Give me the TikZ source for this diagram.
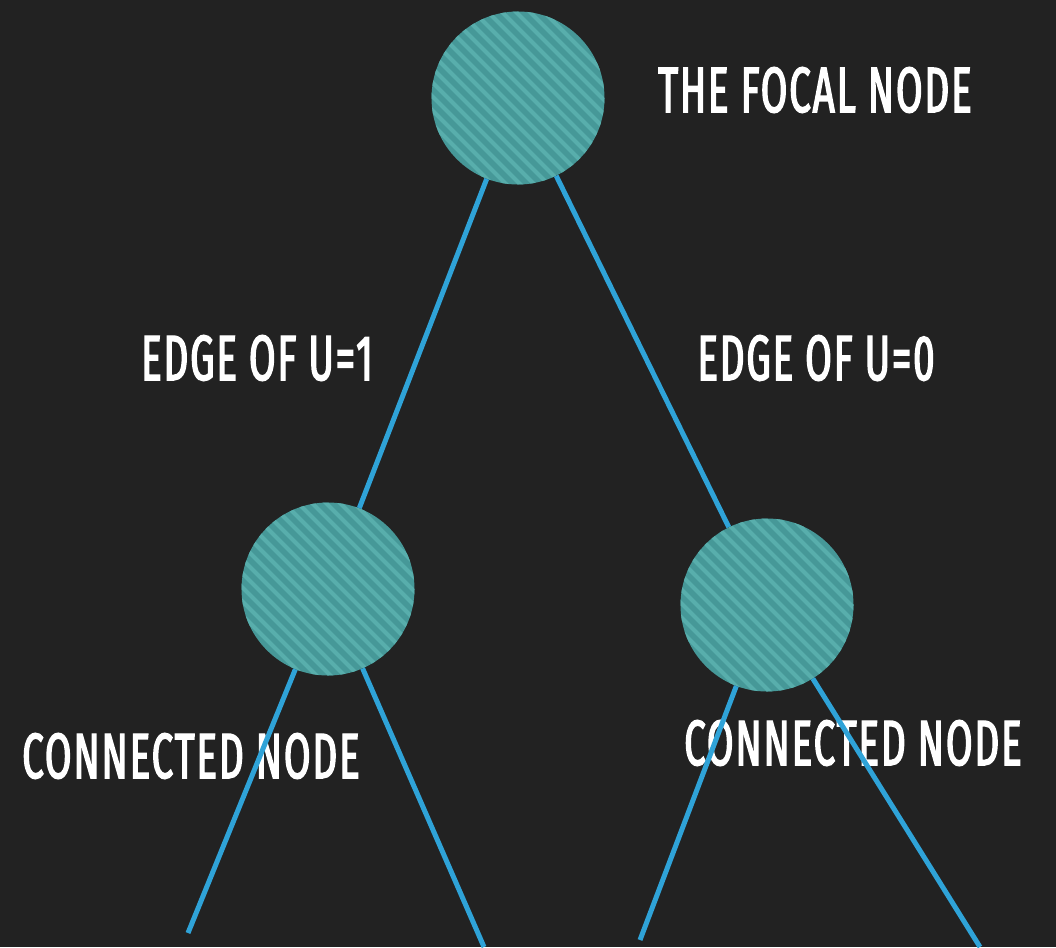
\documentclass[tikz,border=0pt]{standalone}
\usepackage{fontspec}
\usepackage{xcolor}
\usetikzlibrary{calc}
\newfontfamily\capfont[FakeStretch=0.6, FakeBold=2.2, LetterSpace=3]{Fira Sans}

\definecolor{bgdark}{RGB}{34,34,34}
\definecolor{tealfill}{RGB}{70,152,152}
\definecolor{tealstripe}{RGB}{88,174,172}
\definecolor{linkblue}{RGB}{47,163,216}

\begin{document}
\begin{tikzpicture}[
    x=1pt, y=-1pt,
    vertex/.style={circle, fill=tealfill, minimum size=173pt, inner sep=0pt,
        path picture={
            \foreach \k in {-14,...,14}
                \draw[tealstripe, line width=4pt]
                    ($(path picture bounding box.center)+(\k*14pt-110pt,110pt)$) --
                    ($(path picture bounding box.center)+(\k*14pt+110pt,-110pt)$);
        }},
    caption/.style={text=white, inner sep=0pt, font=\capfont\fontsize{64}{70}\selectfont},
    link/.style={draw=linkblue, line width=5pt}
]
% Background
\fill[bgdark] (0,0) rectangle (1056,947);
\useasboundingbox (0,0) rectangle (1056,947);

% Labels
\node[caption] (focallbl) at (815,90) {THE FOCAL NODE};
\node[caption] (leftedge) at (257,358) {EDGE OF U=1};
\node[caption] (rightedge) at (816,358) {EDGE OF U=0};
\node[caption] (leftlbl) at (191,756) {CONNECTED NODE};
\node[caption] (rightlbl) at (853,743) {CONNECTED NODE};

% Nodes
\node[vertex] (focal) at (518,98) {};
\node[vertex] (left) at (328,589) {};
\node[vertex] (right) at (767,605) {};

% Loose ends at the bottom
\coordinate (ll) at (188,933);
\coordinate (lr) at (484,947);
\coordinate (rl) at (640,940);
\coordinate (rr) at (980,947);

% Edges
\draw[link] (focal) -- (left);
\draw[link] (focal) -- (right);
\draw[link] (left) -- (ll);
\draw[link] (left) -- (lr);
\draw[link] (right) -- (rl);
\draw[link] (right) -- (rr);
\end{tikzpicture}
\end{document}
